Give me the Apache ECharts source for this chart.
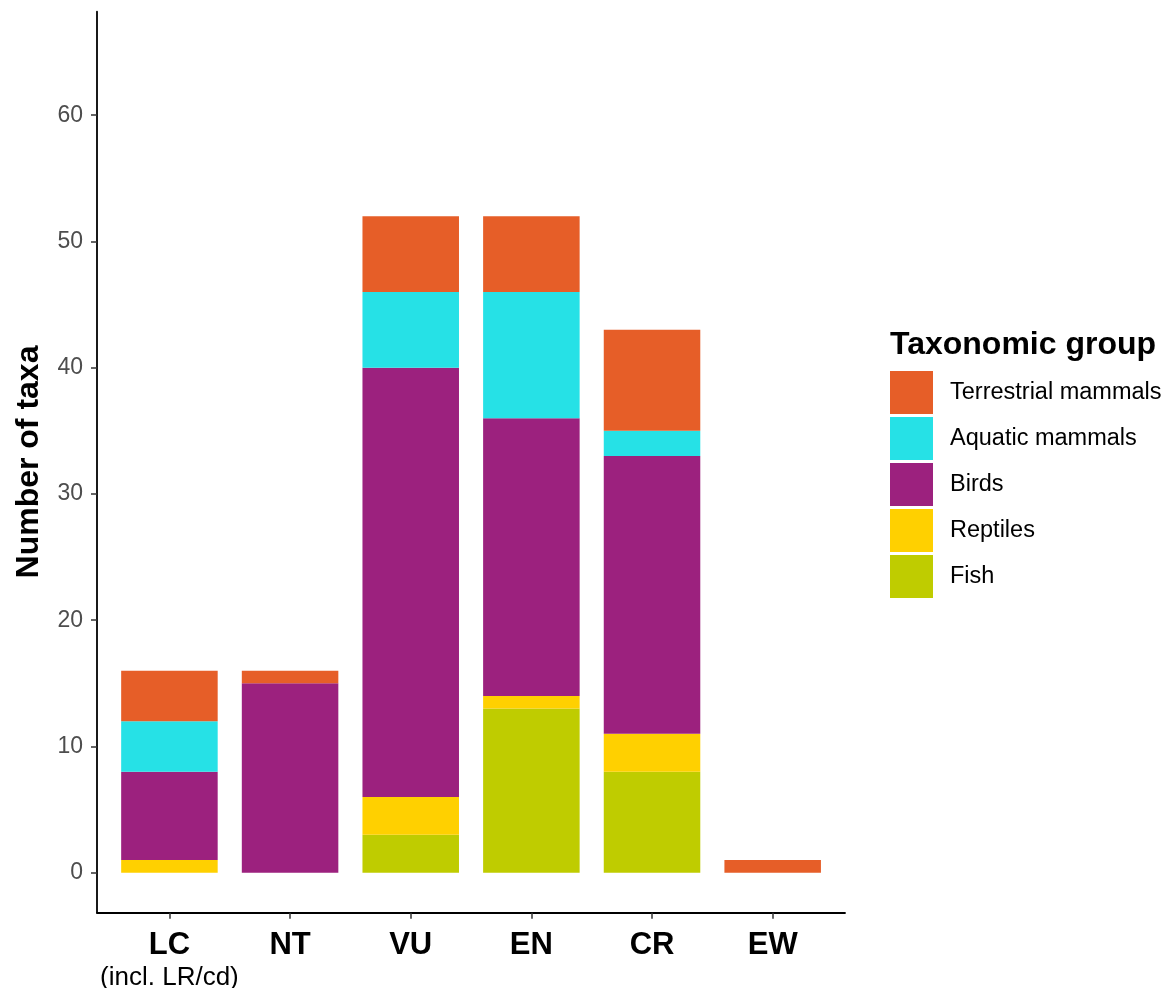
<!DOCTYPE html>
<html>
<head>
<meta charset="utf-8">
<script src="https://cdn.jsdelivr.net/npm/echarts@6/dist/echarts.min.js"></script>
<style>
html,body{margin:0;padding:0;background:#fff;}
#chart{width:1167px;height:988px;}
</style>
</head>
<body>
<div id="chart"></div>
<script>
// Categories (IUCN status)
var categories = ['LC', 'NT', 'VU', 'EN', 'CR', 'EW'];
var categorySub = ['(incl. LR/cd)', '', '', '', '', ''];
// Series values per category (stacked bottom -> top: Fish, Reptiles, Birds, Aquatic, Terrestrial)
var fish        = [0, 0, 3, 13, 8, 0];
var reptiles    = [1, 0, 3, 1, 3, 0];
var birds       = [7, 15, 34, 22, 22, 0];
var aquatic     = [4, 0, 6, 10, 2, 0];
var terrestrial = [4, 1, 6, 6, 8, 1];
// Tick labels
var yTicks = [0, 10, 20, 30, 40, 50, 60];
var legendNames = ['Terrestrial mammals', 'Aquatic mammals', 'Birds', 'Reptiles', 'Fish'];
var colors = {
  'Terrestrial mammals': '#E65E28',
  'Aquatic mammals': '#26E1E6',
  'Birds': '#9C217E',
  'Reptiles': '#FFD000',
  'Fish': '#BFCC00'
};

var FONT = '"Liberation Sans", Arial, sans-serif';
var Y_MIN = -3.17, Y_MAX = 68.2;

function mk(name, vals) {
  return {
    name: name,
    type: 'bar',
    stack: 'total',
    xAxisIndex: 0,
    yAxisIndex: 0,
    barWidth: '80%',
    itemStyle: { color: colors[name] },
    emphasis: { disabled: true },
    data: vals
  };
}

var chart = echarts.init(document.getElementById('chart'), null, { renderer: 'canvas' });
chart.setOption({
  animation: false,
  backgroundColor: '#ffffff',
  textStyle: { fontFamily: FONT },
  grid: [
    // plotting grid (discrete scale with 0.6 expansion each side)
    { left: 109.1, top: 11.7, width: 723.9, height: 901, containLabel: false, outerBoundsMode: 'none' },
    // frame grid (full panel extent for the axis lines)
    { left: 97, top: 11.7, width: 748, height: 901, containLabel: false, outerBoundsMode: 'none' }
  ],
  xAxis: [
    {
      type: 'category',
      gridIndex: 0,
      position: 'bottom',
      data: categories,
      boundaryGap: true,
      axisLine: { show: false, onZero: false },
      axisTick: { show: true, inside: false, alignWithLabel: true, length: 6, lineStyle: { color: '#333', width: 1.5 } },
      axisLabel: {
        show: true,
        interval: 0,
        margin: 15,
        formatter: function (v, i) {
          var s = '{b|' + v + '}';
          if (categorySub[i]) s += '\n{n|' + categorySub[i] + '}';
          return s;
        },
        rich: {
          b: { fontFamily: FONT, fontSize: 31, fontWeight: 'bold', color: '#000', lineHeight: 35 },
          n: { fontFamily: FONT, fontSize: 26, color: '#000', lineHeight: 30 }
        }
      },
      splitLine: { show: false }
    },
    {
      type: 'value',
      gridIndex: 1,
      min: 0, max: 1,
      axisLine: { show: true, onZero: false, lineStyle: { color: '#000', width: 1.8 } },
      axisTick: { show: false },
      axisLabel: { show: false },
      splitLine: { show: false }
    }
  ],
  yAxis: [
    {
      type: 'value',
      gridIndex: 0,
      min: Y_MIN, max: Y_MAX,
      axisLine: { show: false, onZero: false },
      axisTick: { show: false },
      axisLabel: { show: false },
      splitLine: { show: false }
    },
    {
      type: 'value',
      gridIndex: 1,
      min: Y_MIN, max: Y_MAX,
      splitLine: { show: false },
      axisLine: { show: true, onZero: false, lineStyle: { color: '#000', width: 1.8 } },
      axisTick: { show: true, length: 6, lineStyle: { color: '#333', width: 1.5 }, customValues: yTicks },
      axisLabel: {
        show: true,
        customValues: yTicks,
        margin: 14,
        fontFamily: FONT,
        fontSize: 23,
        color: '#4D4D4D'
      }
    }
  ],
  legend: {
    data: legendNames,
    orient: 'vertical',
    left: 890,
    top: 371,
    padding: 0,
    itemWidth: 43,
    itemHeight: 43,
    itemGap: 3,
    icon: 'rect',
    selectedMode: false,
    textStyle: { fontFamily: FONT, fontSize: 23.5, color: '#000', padding: [0, 0, 0, 12] }
  },
  graphic: [
    {
      type: 'text',
      left: 890,
      top: 329,
      style: { text: 'Taxonomic group', fontFamily: FONT, fontSize: 32, fontWeight: 'bold', fill: '#000' }
    },
    {
      type: 'text',
      x: 29,
      y: 462,
      rotation: Math.PI / 2,
      style: { text: 'Number of taxa', fontFamily: FONT, fontSize: 32, fontWeight: 'bold', fill: '#000', align: 'center', verticalAlign: 'middle' }
    }
  ],
  series: [
    mk('Fish', fish),
    mk('Reptiles', reptiles),
    mk('Birds', birds),
    mk('Aquatic mammals', aquatic),
    mk('Terrestrial mammals', terrestrial)
  ]
});
</script>
</body>
</html>
